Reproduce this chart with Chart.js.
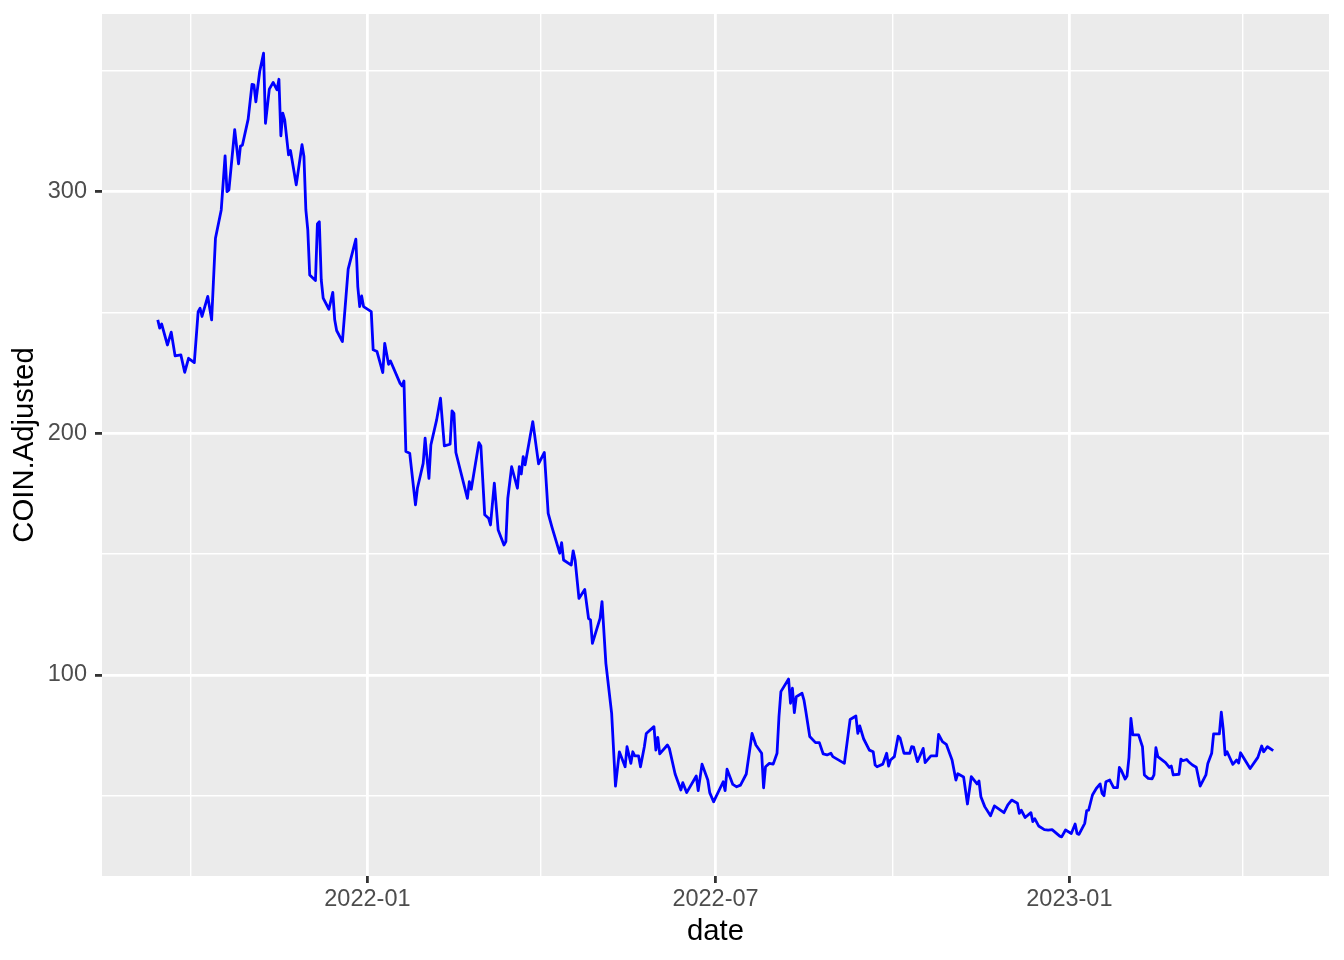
<!DOCTYPE html>
<html>
<head>
<meta charset="utf-8">
<script src="https://cdn.jsdelivr.net/npm/chart.js@4.4.0/dist/chart.umd.min.js"></script>
<style>
  html, body { margin: 0; padding: 0; background: #fff; }
</style>
</head>
<body>
<canvas id="coinChart" width="1344" height="960"></canvas>
<script>
// dates / adjusted closes
const dates = [
  '2021-09-14','2021-09-15','2021-09-16','2021-09-19','2021-09-21','2021-09-23','2021-09-26','2021-09-28','2021-09-30',
  '2021-10-03','2021-10-05','2021-10-06','2021-10-07','2021-10-10','2021-10-12','2021-10-14','2021-10-17','2021-10-19','2021-10-20','2021-10-21','2021-10-24','2021-10-26','2021-10-27','2021-10-28','2021-10-31',
  '2021-11-02','2021-11-03','2021-11-04','2021-11-06','2021-11-08','2021-11-09','2021-11-11','2021-11-13','2021-11-15','2021-11-16','2021-11-17','2021-11-18','2021-11-19','2021-11-21','2021-11-22','2021-11-25','2021-11-28','2021-11-29','2021-11-30',
  '2021-12-01','2021-12-02','2021-12-05','2021-12-06','2021-12-07','2021-12-08','2021-12-09','2021-12-12','2021-12-14','2021-12-15','2021-12-16','2021-12-19','2021-12-22','2021-12-26','2021-12-27','2021-12-28','2021-12-29','2021-12-30',
  '2022-01-03','2022-01-04','2022-01-06','2022-01-09','2022-01-10','2022-01-12','2022-01-13','2022-01-18','2022-01-19','2022-01-20','2022-01-21','2022-01-23','2022-01-26','2022-01-27','2022-01-30','2022-01-31',
  '2022-02-02','2022-02-03','2022-02-06','2022-02-08','2022-02-10','2022-02-13','2022-02-14','2022-02-15','2022-02-16','2022-02-22','2022-02-23','2022-02-24','2022-02-28',
  '2022-03-01','2022-03-03','2022-03-05','2022-03-06','2022-03-08','2022-03-10','2022-03-13','2022-03-14','2022-03-15','2022-03-17','2022-03-20','2022-03-21','2022-03-22','2022-03-23','2022-03-24','2022-03-28','2022-03-31',
  '2022-04-03','2022-04-05','2022-04-07','2022-04-11','2022-04-12','2022-04-13','2022-04-17','2022-04-18','2022-04-19','2022-04-21','2022-04-24','2022-04-26','2022-04-27','2022-04-28',
  '2022-05-02','2022-05-03','2022-05-05','2022-05-08','2022-05-10','2022-05-12','2022-05-15','2022-05-16','2022-05-18','2022-05-19','2022-05-20','2022-05-22','2022-05-23','2022-05-25','2022-05-26','2022-05-30','2022-05-31',
  '2022-06-01','2022-06-02','2022-06-06','2022-06-07','2022-06-10','2022-06-13','2022-06-14','2022-06-16','2022-06-21','2022-06-22','2022-06-24','2022-06-27','2022-06-28','2022-06-30',
  '2022-07-05','2022-07-06','2022-07-07','2022-07-10','2022-07-12','2022-07-14','2022-07-17','2022-07-20','2022-07-22','2022-07-25','2022-07-26','2022-07-27','2022-07-29','2022-07-31',
  '2022-08-02','2022-08-03','2022-08-04','2022-08-08','2022-08-09','2022-08-10','2022-08-11','2022-08-12','2022-08-15','2022-08-16','2022-08-17','2022-08-19','2022-08-22','2022-08-24','2022-08-26','2022-08-28','2022-08-30','2022-08-31',
  '2022-09-06','2022-09-09','2022-09-12','2022-09-13','2022-09-14','2022-09-16','2022-09-19','2022-09-21','2022-09-22','2022-09-23','2022-09-26','2022-09-28','2022-09-29','2022-09-30',
  '2022-10-02','2022-10-04','2022-10-05','2022-10-07','2022-10-10','2022-10-11','2022-10-12','2022-10-14','2022-10-17','2022-10-18','2022-10-21','2022-10-24','2022-10-25','2022-10-27','2022-10-29',
  '2022-11-01','2022-11-03','2022-11-04','2022-11-07','2022-11-09','2022-11-11','2022-11-14','2022-11-15','2022-11-16','2022-11-18','2022-11-21','2022-11-23','2022-11-28','2022-11-30',
  '2022-12-02','2022-12-05','2022-12-06','2022-12-07','2022-12-09','2022-12-12','2022-12-13','2022-12-14','2022-12-16','2022-12-19','2022-12-21','2022-12-23','2022-12-27','2022-12-28','2022-12-30',
  '2023-01-02','2023-01-04','2023-01-05','2023-01-06','2023-01-09','2023-01-10','2023-01-11','2023-01-13','2023-01-15','2023-01-17','2023-01-18','2023-01-19','2023-01-20','2023-01-22','2023-01-24','2023-01-26','2023-01-27','2023-01-28','2023-01-30','2023-01-31',
  '2023-02-01','2023-02-02','2023-02-03','2023-02-06','2023-02-08','2023-02-09','2023-02-11','2023-02-13','2023-02-14','2023-02-15','2023-02-16','2023-02-20','2023-02-22','2023-02-23','2023-02-24','2023-02-27','2023-02-28',
  '2023-03-01','2023-03-03','2023-03-04','2023-03-06','2023-03-08','2023-03-10','2023-03-13','2023-03-14','2023-03-16','2023-03-17','2023-03-20','2023-03-21','2023-03-22','2023-03-23','2023-03-24','2023-03-27','2023-03-29','2023-03-30','2023-03-31',
  '2023-04-05','2023-04-09','2023-04-11','2023-04-12','2023-04-14','2023-04-17'
];

const coinAdjusted = [
  247.0,243.6,245.3,236.6,241.9,232.1,232.5,225.3,231.1,
  229.3,250.4,251.8,248.4,256.7,247.0,280.8,292.5,314.9,300.1,300.8,325.7,311.6,319.0,319.3,330.1,
  344.5,344.3,337.3,349.8,357.4,328.4,342.5,345.3,342.2,346.6,323.2,332.6,329.8,315.3,317.1,302.9,319.5,314.6,292.5,
  284.3,265.6,263.3,286.7,287.6,263.6,256.0,251.4,258.4,247.0,242.6,238.0,268.0,280.4,260.8,252.5,256.9,252.5,
  250.4,234.6,233.9,225.2,237.3,228.6,230.0,220.7,219.7,221.7,192.5,191.8,170.4,177.3,187.6,198.0,
  181.4,195.2,205.6,214.6,194.8,195.5,209.3,208.3,192.1,173.1,180.0,176.9,196.2,
  194.8,166.3,164.9,162.1,179.4,160.0,153.8,155.2,173.1,186.2,177.3,186.2,183.2,190.4,187.0,204.9,187.4,
  192.1,166.9,161.1,150.4,154.8,147.6,145.5,151.4,147.6,131.7,135.4,123.3,122.8,113.1,
  123.5,130.4,104.8,84.1,54.0,68.2,62.0,70.3,63.4,68.2,66.5,66.5,62.0,70.3,75.8,78.6,68.9,
  74.2,67.3,71.0,69.6,59.0,52.4,55.4,51.3,58.2,52.1,63.1,56.5,51.3,47.5,
  55.8,52.1,61.0,54.7,53.7,54.4,59.0,75.8,71.0,67.6,53.3,62.0,63.4,63.1,
  67.6,82.7,93.1,98.3,88.3,94.5,84.4,91.0,92.4,89.6,84.8,74.5,72.0,72.0,67.3,66.9,67.6,66.2,
  63.4,81.6,83.0,75.8,78.9,73.6,68.9,68.2,62.7,62.0,63.1,67.6,62.3,64.8,
  66.2,74.7,73.8,67.6,67.6,70.3,70.1,64.1,69.6,63.7,66.5,66.5,75.4,72.4,71.3,
  64.8,56.5,59.1,57.8,46.6,57.9,54.9,56.1,49.6,45.5,41.7,45.8,43.0,46.2,
  48.2,46.9,42.7,44.0,41.0,43.0,39.3,40.5,37.5,36.0,35.8,36.0,33.3,33.0,35.8,
  34.4,38.3,34.4,34.0,38.6,43.8,44.0,50.3,53.0,54.9,51.0,50.0,55.8,56.5,53.4,53.4,61.7,60.5,56.9,58.2,
  65.9,82.0,75.2,75.2,70.3,58.6,57.2,57.0,58.6,69.9,66.2,63.7,61.7,62.3,58.6,58.9,65.2,
  64.5,65.0,64.1,62.7,61.8,54.0,58.6,63.4,67.6,75.6,75.6,84.6,77.5,66.9,68.2,63.0,64.8,63.5,67.8,
  61.3,65.9,70.6,68.2,70.3,68.7
];

const majorTickDates = ['2022-01-01', '2022-07-01', '2023-01-01'];
const majorTickLabels = ['2022-01', '2022-07', '2023-01'];
const minorTickDates = ['2021-10-01', '2022-04-01', '2022-10-01', '2023-04-01'];
const yMajorTicks = [100, 200, 300];
const yMinorTicks = [50, 150, 250, 350];

// x axis works in days since 2022-01-01
const DAY = 86400000;
const origin = Date.parse('2022-01-01');
const toDay = s => (Date.parse(s) - origin) / DAY;

const xMajor = majorTickDates.map(toDay);
const xMinor = minorTickDates.map(toDay);

// ggplot style 5% expansion
function expand(arr) {
  const lo = Math.min(...arr), hi = Math.max(...arr);
  const pad = (hi - lo) * 0.05;
  return [lo - pad, hi + pad];
}
const [xMin, xMax] = expand(dates.map(toDay));
const [yMin, yMax] = expand(coinAdjusted);

const FONT = '"Liberation Sans", Arial, Helvetica, sans-serif';
Chart.defaults.font.family = FONT;

const panelBg = {
  id: 'panelBg',
  beforeDraw(chart) {
    const {ctx, chartArea: a} = chart;
    ctx.save();
    ctx.fillStyle = '#EBEBEB';
    ctx.fillRect(a.left, a.top, a.right - a.left, a.bottom - a.top);
    ctx.restore();
  }
};

const isMajorX = v => xMajor.some(m => Math.abs(m - v) < 1e-6);
const isMajorY = v => yMajorTicks.includes(v);

new Chart(document.getElementById('coinChart'), {
  type: 'line',
  data: {
    datasets: [{
      data: dates.map((d, i) => ({x: toDay(d), y: coinAdjusted[i]})),
      borderColor: '#0000FF',
      borderWidth: 2.8,
      borderJoinStyle: 'round',
      pointRadius: 0,
      tension: 0,
      fill: false
    }]
  },
  options: {
    responsive: false,
    animation: false,
    devicePixelRatio: 1,
    layout: { padding: { top: 14, right: 15, bottom: 0, left: 0 } },
    plugins: { legend: { display: false }, tooltip: { enabled: false } },
    scales: {
      x: {
        type: 'linear',
        min: xMin,
        max: xMax,
        afterBuildTicks: scale => {
          scale.ticks = xMinor.concat(xMajor).sort((a, b) => a - b).map(v => ({value: v}));
        },
        afterFit: scale => {
          scale.height = 84;
          scale.paddingLeft = 0;
          scale.paddingRight = 0;
        },
        border: { display: false },
        grid: {
          color: '#FFFFFF',
          lineWidth: c => isMajorX(c.tick.value) ? 2.8 : 1.4,
          tickLength: 7,
          tickWidth: 2.8,
          tickColor: c => isMajorX(c.tick.value) ? '#333333' : 'rgba(0,0,0,0)'
        },
        ticks: {
          autoSkip: false,
          maxRotation: 0,
          padding: 2,
          color: '#4D4D4D',
          font: { size: 23.5 },
          callback: v => {
            const i = xMajor.findIndex(m => Math.abs(m - v) < 1e-6);
            return i >= 0 ? majorTickLabels[i] : '';
          }
        },
        title: {
          display: true,
          text: 'date',
          color: '#000000',
          font: { size: 29.3 },
          padding: { top: 0, bottom: 11 }
        }
      },
      y: {
        min: yMin,
        max: yMax,
        afterBuildTicks: scale => {
          scale.ticks = yMinorTicks.concat(yMajorTicks).sort((a, b) => a - b).map(v => ({value: v}));
        },
        afterFit: scale => {
          scale.width = 102;
          scale.paddingTop = 0;
          scale.paddingBottom = 0;
        },
        border: { display: false },
        grid: {
          color: '#FFFFFF',
          lineWidth: c => isMajorY(c.tick.value) ? 2.8 : 1.4,
          tickLength: 7,
          tickWidth: 2.8,
          tickColor: c => isMajorY(c.tick.value) ? '#333333' : 'rgba(0,0,0,0)'
        },
        ticks: {
          padding: 8,
          color: '#4D4D4D',
          font: { size: 23.5 },
          callback: v => isMajorY(v) ? String(v) : ''
        },
        title: {
          display: true,
          text: 'COIN.Adjusted',
          color: '#000000',
          font: { size: 29.3 },
          padding: { top: 7, bottom: 0 }
        }
      }
    }
  },
  plugins: [panelBg]
});
</script>
</body>
</html>
